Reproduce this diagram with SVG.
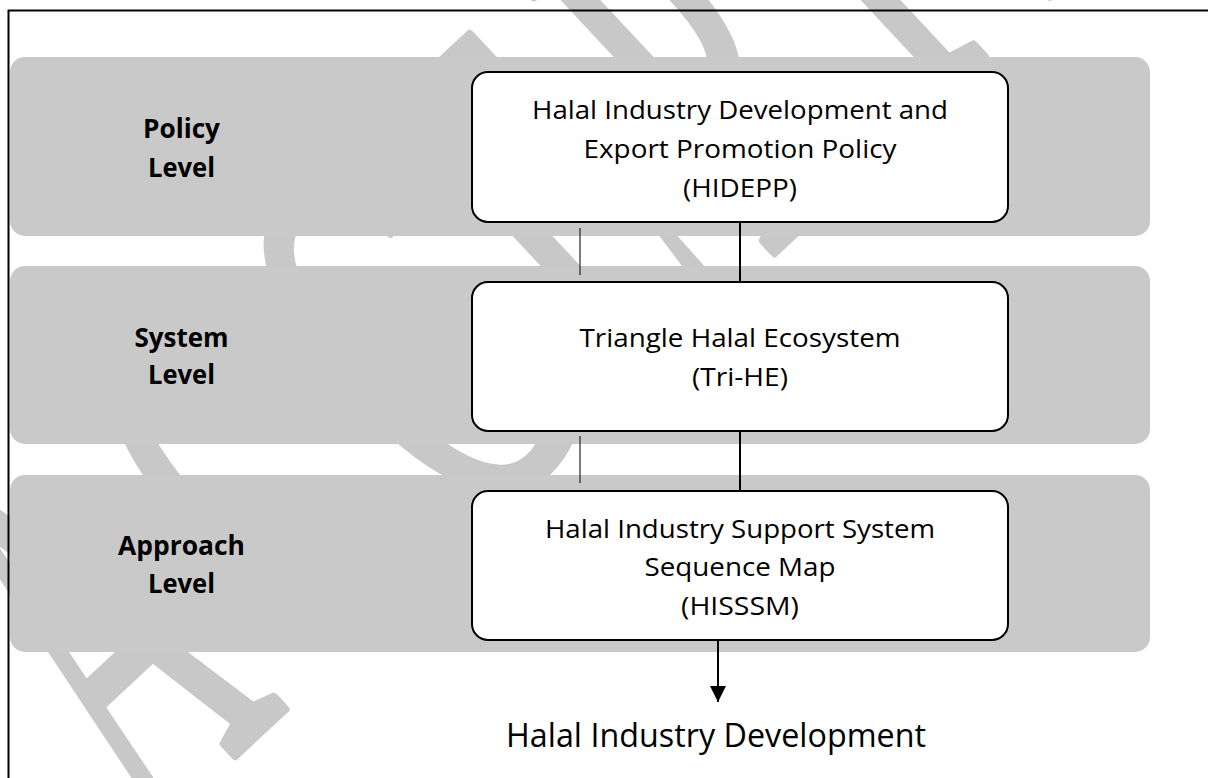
<svg xmlns="http://www.w3.org/2000/svg" width="1208" height="778" viewBox="0 0 1208 778">
  <style>
    .band { fill: #c9c9c9; }
    .box { fill: #ffffff; stroke: #000000; stroke-width: 2; }
    .lbl { font-family: "Open Sans", "Liberation Sans", sans-serif; font-weight: bold; font-size: 26px; fill: #000000; text-anchor: middle; }
    .txt { font-family: "Open Sans", "Liberation Sans", sans-serif; font-size: 26px; fill: #000000; text-anchor: middle; }
    .out { font-family: "Open Sans", "Liberation Sans", sans-serif; font-size: 32px; fill: #000000; text-anchor: middle; }
    .link { stroke: #000000; stroke-width: 2; fill: none; }
    .stub { stroke: #222222; stroke-width: 1.2; fill: none; }
    .mark { font-family: "Liberation Serif", "Times New Roman", serif; font-size: 559px; letter-spacing: 80px; fill: #c8c8c8; stroke: #c8c8c8; stroke-width: 10; stroke-linejoin: round; }
  </style>
  <defs>
    <marker id="arrowhead" markerWidth="16" markerHeight="16" refX="16" refY="8" orient="auto" markerUnits="userSpaceOnUse">
      <path d="M0,0 L16,8 L0,16 Z" fill="#000000"/>
    </marker>
  </defs>

  <rect width="1208" height="778" fill="#ffffff"/>

  <!-- diagonal watermark lettering -->
  <g id="watermark">
    <text class="mark" transform="translate(150,834) rotate(-43) scale(0.465,1)">ACCEPTED</text>
  </g>

  <!-- level bands -->
  <g id="bands">
    <rect class="band" x="10" y="57" width="1140" height="179" rx="15"/>
    <rect class="band" x="10" y="266" width="1140" height="178" rx="15"/>
    <rect class="band" x="10" y="475" width="1140" height="177" rx="15"/>
  </g>

  <!-- frame -->
  <path d="M8.5,778 V10.5 H1208" fill="none" stroke="#000000" stroke-width="2"/>

  <!-- connectors -->
  <g id="connectors">
    <line class="link" x1="740" y1="222" x2="740" y2="282"/>
    <line class="link" x1="740" y1="431" x2="740" y2="491"/>
    <line class="stub" x1="580" y1="228" x2="580" y2="275"/>
    <line class="stub" x1="580" y1="436" x2="580" y2="483"/>
    <line class="link" x1="718" y1="640" x2="718" y2="702" marker-end="url(#arrowhead)"/>
  </g>

  <!-- level labels -->
  <g id="label-policy">
    <text class="lbl" x="181.5" y="137.5" textLength="77" lengthAdjust="spacingAndGlyphs">Policy</text>
    <text class="lbl" x="181.5" y="176.5" textLength="67" lengthAdjust="spacingAndGlyphs">Level</text>
  </g>
  <g id="label-system">
    <text class="lbl" x="181.5" y="346.5" textLength="94" lengthAdjust="spacingAndGlyphs">System</text>
    <text class="lbl" x="181.5" y="384" textLength="67" lengthAdjust="spacingAndGlyphs">Level</text>
  </g>
  <g id="label-approach">
    <text class="lbl" x="181.5" y="554.5" textLength="127" lengthAdjust="spacingAndGlyphs">Approach</text>
    <text class="lbl" x="181.5" y="593" textLength="67" lengthAdjust="spacingAndGlyphs">Level</text>
  </g>

  <!-- nodes -->
  <g id="node-hidepp">
    <rect class="box" x="472" y="72" width="536" height="150" rx="16"/>
    <text class="txt" x="740" y="118.5" textLength="416" lengthAdjust="spacingAndGlyphs">Halal Industry Development and</text>
    <text class="txt" x="740" y="157.5" textLength="313" lengthAdjust="spacingAndGlyphs">Export Promotion Policy</text>
    <text class="txt" x="740" y="196.5" textLength="114" lengthAdjust="spacingAndGlyphs">(HIDEPP)</text>
  </g>
  <g id="node-trihe">
    <rect class="box" x="472" y="282" width="536" height="149" rx="16"/>
    <text class="txt" x="740" y="347" textLength="321" lengthAdjust="spacingAndGlyphs">Triangle Halal Ecosystem</text>
    <text class="txt" x="740" y="386" textLength="96" lengthAdjust="spacingAndGlyphs">(Tri-HE)</text>
  </g>
  <g id="node-hisssm">
    <rect class="box" x="472" y="491" width="536" height="149" rx="16"/>
    <text class="txt" x="740" y="537.5" textLength="390" lengthAdjust="spacingAndGlyphs">Halal Industry Support System</text>
    <text class="txt" x="740" y="576" textLength="191" lengthAdjust="spacingAndGlyphs">Sequence Map</text>
    <text class="txt" x="740" y="614.5" textLength="118" lengthAdjust="spacingAndGlyphs">(HISSSM)</text>
  </g>
  <g id="node-outcome">
    <text class="out" x="716" y="747" textLength="420" lengthAdjust="spacingAndGlyphs">Halal Industry Development</text>
  </g>
</svg>
